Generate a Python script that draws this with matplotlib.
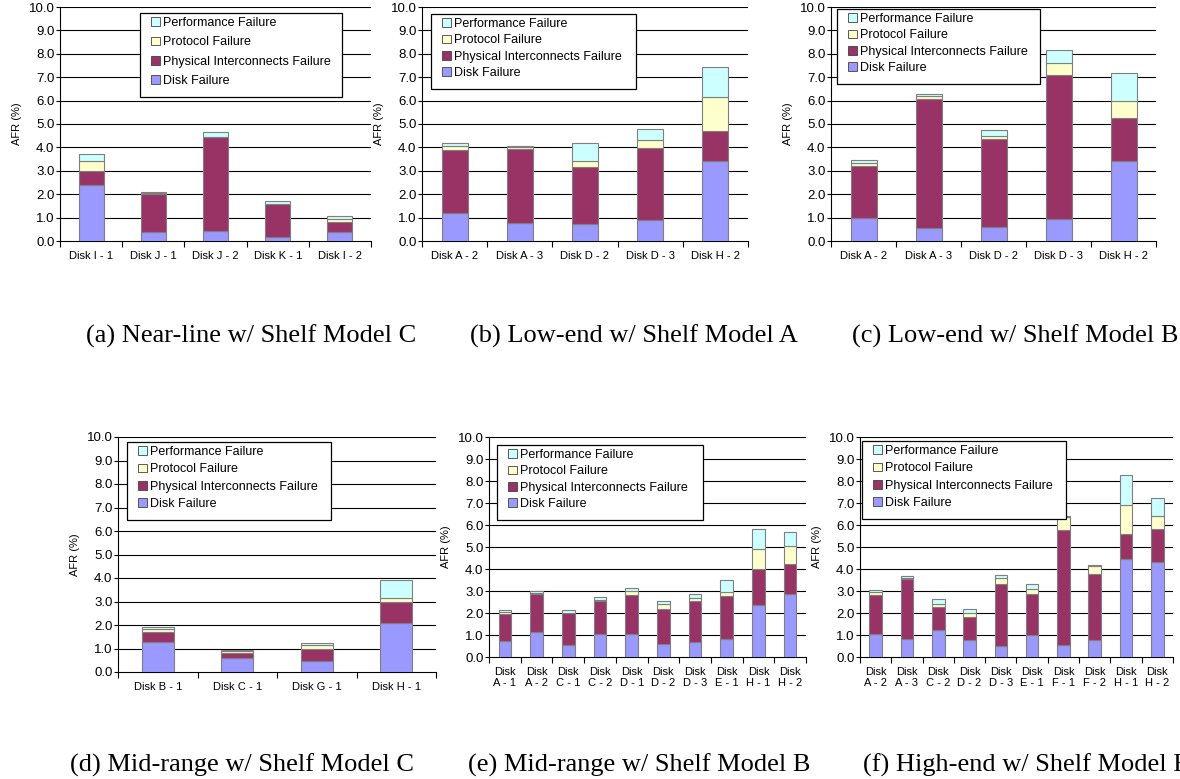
import numpy as np
import matplotlib
matplotlib.use("Agg")
import matplotlib.pyplot as plt
from matplotlib.patches import Patch, Rectangle

plt.rcParams['font.family'] = ['Liberation Sans', 'DejaVu Sans']

# ---- data (AFR %, stacked components) ----
a_labels = ['Disk I - 1', 'Disk J - 1', 'Disk J - 2', 'Disk K - 1', 'Disk I - 2']
a_disk = [2.39, 0.37, 0.44, 0.16, 0.40]
a_phys = [0.60, 1.62, 4.00, 1.40, 0.40]
a_proto = [0.45, 0.04, 0.02, 0.02, 0.12]
a_perf = [0.26, 0.07, 0.19, 0.11, 0.15]

b_labels = ['Disk A - 2', 'Disk A - 3', 'Disk D - 2', 'Disk D - 3', 'Disk H - 2']
b_disk = [1.18, 0.78, 0.72, 0.89, 3.43]
b_phys = [2.69, 3.15, 2.46, 3.07, 1.27]
b_proto = [0.17, 0.08, 0.24, 0.37, 1.44]
b_perf = [0.14, 0.05, 0.76, 0.46, 1.31]

c_labels = ['Disk A - 2', 'Disk A - 3', 'Disk D - 2', 'Disk D - 3', 'Disk H - 2']
c_disk = [0.98, 0.54, 0.61, 0.96, 3.43]
c_phys = [2.21, 5.53, 3.74, 6.12, 1.82]
c_proto = [0.14, 0.11, 0.15, 0.52, 0.74]
c_perf = [0.15, 0.09, 0.25, 0.56, 1.19]

d_labels = ['Disk B - 1', 'Disk C - 1', 'Disk G - 1', 'Disk H - 1']
d_disk = [1.27, 0.59, 0.48, 2.08]
d_phys = [0.44, 0.22, 0.51, 0.88]
d_proto = [0.13, 0.07, 0.14, 0.17]
d_perf = [0.07, 0.07, 0.10, 0.77]

e_labels = ['Disk\nA - 1', 'Disk\nA - 2', 'Disk\nC - 1', 'Disk\nC - 2', 'Disk\nD - 1',
            'Disk\nD - 2', 'Disk\nD - 3', 'Disk\nE - 1', 'Disk\nH - 1', 'Disk\nH - 2']
e_disk = [0.71, 1.14, 0.55, 1.03, 1.03, 0.59, 0.68, 0.83, 2.38, 2.88]
e_phys = [1.26, 1.71, 1.45, 1.52, 1.80, 1.59, 1.88, 1.93, 1.60, 1.36]
e_proto = [0.08, 0.06, 0.02, 0.06, 0.17, 0.24, 0.14, 0.19, 0.94, 0.82]
e_perf = [0.10, 0.09, 0.13, 0.12, 0.14, 0.13, 0.16, 0.53, 0.90, 0.61]

f_labels = ['Disk\nA - 2', 'Disk\nA - 3', 'Disk\nC - 2', 'Disk\nD - 2', 'Disk\nD - 3',
            'Disk\nE - 1', 'Disk\nF - 1', 'Disk\nF - 2', 'Disk\nH - 1', 'Disk\nH - 2']
f_disk = [1.06, 0.82, 1.21, 0.76, 0.52, 1.02, 0.56, 0.76, 4.45, 4.32]
f_phys = [1.77, 2.73, 1.06, 1.06, 2.81, 1.86, 5.23, 3.00, 1.13, 1.51]
f_proto = [0.12, 0.06, 0.15, 0.18, 0.26, 0.23, 0.57, 0.36, 1.34, 0.59]
f_perf = [0.11, 0.06, 0.20, 0.17, 0.14, 0.19, 0.06, 0.08, 1.37, 0.82]

series_names = ['Disk Failure', 'Physical Interconnects Failure', 'Protocol Failure', 'Performance Failure']
colors = ['#9999FF', '#993366', '#FFFFCC', '#CCFFFF']
captions = ['(a) Near-line w/ Shelf Model C', '(b) Low-end w/ Shelf Model A',
            '(c) Low-end w/ Shelf Model B', '(d) Mid-range w/ Shelf Model C',
            '(e) Mid-range w/ Shelf Model B', '(f) High-end w/ Shelf Model B']

W, H = 1180, 779
fig = plt.figure(figsize=(W / 100, H / 100), dpi=100)


def px_axes(x0, y0, x1, y1):
    return fig.add_axes([x0 / W, 1 - y1 / H, (x1 - x0) / W, (y1 - y0) / H])


# axes box and legend box in pixels (x0, y0, x1, y1)
panels = [
    ((60, 7, 371, 241), (140, 13, 342, 97), a_labels, [a_disk, a_phys, a_proto, a_perf]),
    ((422, 7, 748, 241), (431, 14, 636, 89), b_labels, [b_disk, b_phys, b_proto, b_perf]),
    ((831, 7, 1156, 241), (837, 9, 1040, 84), c_labels, [c_disk, c_phys, c_proto, c_perf]),
    ((118, 437, 436, 672), (127, 442, 331, 520), d_labels, [d_disk, d_phys, d_proto, d_perf]),
    ((489, 437, 806, 657), (497, 445, 703, 520), e_labels, [e_disk, e_phys, e_proto, e_perf]),
    ((860, 437, 1173, 657), (862, 441, 1066, 519), f_labels, [f_disk, f_phys, f_proto, f_perf]),
]

leg_fs = 9
fs_px = leg_fs * 100 / 72
row_h = 14.0

for box, lbox, labels, vals in panels:
    ax = px_axes(*box)
    n = len(labels)
    x = np.arange(n)
    bottom = np.zeros(n)
    for v, col in zip(vals, colors):
        ax.bar(x, v, 0.4, bottom=bottom, color=col, edgecolor='#7f7f7f', linewidth=0.8, zorder=3)
        bottom += np.array(v)
    ax.set_xlim(-0.5, n - 0.5)
    ax.set_ylim(0, 10)
    ax.set_yticks(np.arange(0, 11, 1))
    ax.set_yticklabels(['%.1f' % t for t in np.arange(0, 11, 1)], fontsize=9.5)
    for t in range(1, 11):
        ax.axhline(t, color='black', linewidth=0.8, zorder=1)
    ax.set_xticks(np.arange(-0.5, n, 1.0))
    ax.set_xticklabels([])
    ax.set_xticks(x, minor=True)
    ax.set_xticklabels(labels, minor=True, fontsize=8)
    ax.tick_params(axis='x', which='minor', length=0, pad=7)
    ax.tick_params(axis='x', which='major', length=4, width=0.8, direction='out')
    ax.tick_params(axis='y', length=3, width=0.8, direction='out', pad=1)
    for s in ['top', 'right']:
        ax.spines[s].set_visible(False)
    for s in ['left', 'bottom']:
        ax.spines[s].set_linewidth(0.8)
    ax.set_ylabel('AFR (%)', fontsize=8, labelpad=5)

    # legend: hand placed frame + frameless legend content
    lx0, ly0, lx1, ly1 = lbox
    frame = Rectangle((lx0 / W, 1 - ly1 / H), (lx1 - lx0) / W, (ly1 - ly0) / H,
                      transform=fig.transFigure, facecolor='white', edgecolor='black',
                      linewidth=0.9, zorder=4, clip_on=False)
    ax.add_artist(frame)
    pitch = (ly1 - ly0 - 20) / 3.0
    handles = [Patch(facecolor=c, edgecolor='#404040', linewidth=0.6) for c in colors][::-1]
    leg = ax.legend(handles, series_names[::-1], loc='upper left',
                    bbox_to_anchor=((lx0 + 11) / W, 1 - (ly0 + 11 - row_h / 2) / H),
                    bbox_transform=fig.transFigure, fontsize=leg_fs, frameon=False,
                    handlelength=0.72, handleheight=0.72, handletextpad=0.22,
                    labelspacing=(pitch - row_h) / fs_px, borderpad=0, borderaxespad=0)
    leg.set_zorder(5)

cap_pos = [(86, 343), (470, 343), (852, 343), (70, 772), (468, 772), (863, 772)]
for (cx, cy), txt in zip(cap_pos, captions):
    fig.text(cx / W, 1 - cy / H, txt, ha='left', va='baseline', fontsize=19,
             family=['Liberation Serif', 'DejaVu Serif'])

fig.savefig('out.png', dpi=100)
